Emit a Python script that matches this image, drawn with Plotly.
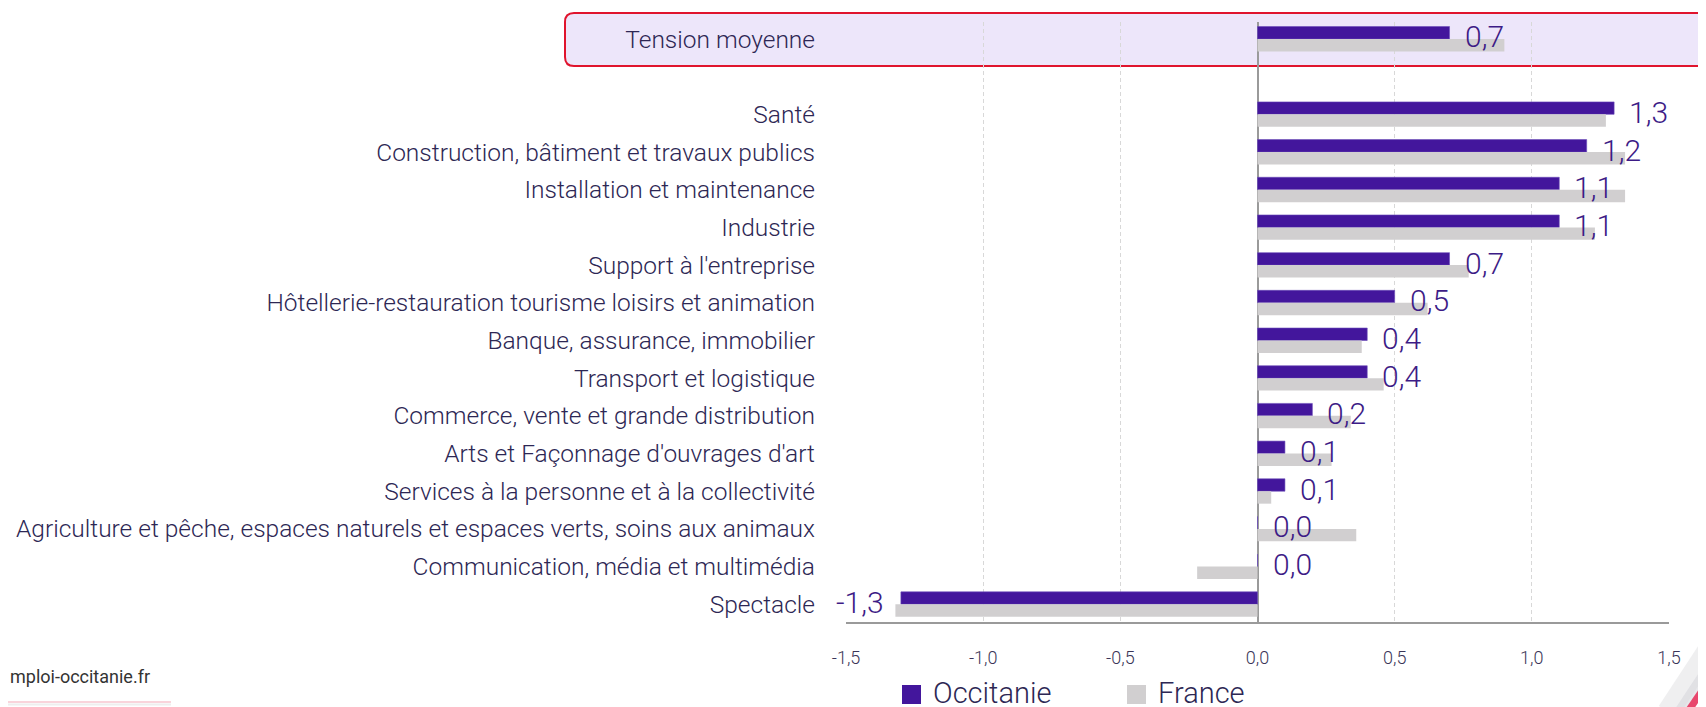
import plotly.graph_objects as go

# ---------------- data ----------------
categories = [
    "Tension moyenne",
    "Santé",
    "Construction, bâtiment et travaux publics",
    "Installation et maintenance",
    "Industrie",
    "Support à l'entreprise",
    "Hôtellerie-restauration tourisme loisirs et animation",
    "Banque, assurance, immobilier",
    "Transport et logistique",
    "Commerce, vente et grande distribution",
    "Arts et Façonnage d'ouvrages d'art",
    "Services à la personne et à la collectivité",
    "Agriculture et pêche, espaces naturels et espaces verts, soins aux animaux",
    "Communication, média et multimédia",
    "Spectacle",
]
occitanie = [0.70, 1.30, 1.20, 1.10, 1.10, 0.70, 0.50, 0.40, 0.40, 0.20, 0.10, 0.10, 0.00, 0.00, -1.30]
france = [0.90, 1.27, 1.34, 1.34, 1.23, 0.77, 0.62, 0.38, 0.46, 0.34, 0.27, 0.05, 0.36, -0.22, -1.32]
tick_vals = [-1.5, -1.0, -0.5, 0.0, 0.5, 1.0, 1.5]
tick_labels = ["-1,5", "-1,0", "-0,5", "0,0", "0,5", "1,0", "1,5"]
series_names = ["Occitanie", "France"]

# ---------------- style ----------------
W, H = 1706, 707
OFF = 8  # page body margin
# target screen geometry of the plot area
SX0, SX1, SY0, SY1 = 846, 1669, 22, 622
ML, MT = SX0 - OFF, SY0 - OFF
MR, MB = W - (SX1 - OFF), H - (SY1 - OFF)
PW, PH = SX1 - SX0, SY1 - SY0
PURPLE = "#43169c"
GREY = "#d1cfd0"
TXT = "#2d2754"
LBL = "#3d1b86"
FONT = "Roboto"

# positions: first row (average) separated from the rest by an empty row
pos = [0] + [i + 1 for i in range(1, len(categories))]
BW = 0.33


def px_x(px):
    return (px - SX0) / PW


def px_y(py):
    return (SY1 - py) / PH


fig = go.Figure()
fig.add_trace(go.Bar(
    y=pos, x=occitanie, orientation="h", name=series_names[0],
    marker=dict(color=PURPLE, line=dict(color="#6a4bb8", width=0.6)),
    width=BW, offset=-BW, showlegend=False, hoverinfo="x+name",
))
fig.add_trace(go.Bar(
    y=pos, x=france, orientation="h", name=series_names[1],
    marker=dict(color=GREY, line=dict(width=0)),
    width=BW, offset=0, showlegend=False, hoverinfo="x+name",
))

# value labels (Occitanie)
for p, v in zip(pos, occitanie):
    txt = f"{v:.1f}".replace(".", ",")
    fig.add_annotation(
        x=v, y=p, xref="x", yref="y", text=txt, showarrow=False,
        xanchor="left" if v >= 0 else "right", yanchor="middle",
        xshift=13 if v >= 0 else -15, yshift=2,
        font=dict(family=FONT, size=30, color=LBL, weight=300),
    )

shapes = []
# highlighted "Tension moyenne" band with rounded corners
x0, x1 = px_x(565), px_x(1730)
y0, y1 = px_y(66), px_y(13)
rx, ry = 9 / PW, 9 / PH
path = (f"M{x0+rx},{y1} L{x1-rx},{y1} Q{x1},{y1} {x1},{y1-ry} L{x1},{y0+ry} "
        f"Q{x1},{y0} {x1-rx},{y0} L{x0+rx},{y0} Q{x0},{y0} {x0},{y0+ry} "
        f"L{x0},{y1-ry} Q{x0},{y1} {x0+rx},{y1} Z")
shapes.append(dict(type="path", xref="paper", yref="paper", path=path,
                   fillcolor="#ede6fa", line=dict(color="#e0142d", width=2), layer="below"))

# custom legend
leg = [(902, 931, series_names[0], PURPLE), (1127, 1156, series_names[1], GREY)]
for sx, tx, name, col in leg:
    shapes.append(dict(type="rect", xref="paper", yref="paper",
                       x0=px_x(sx), x1=px_x(sx + 19), y0=px_y(704), y1=px_y(685),
                       fillcolor=col, line=dict(width=0)))
    fig.add_annotation(x=px_x(tx), y=px_y(693), xref="paper", yref="paper", text=name,
                       showarrow=False, xanchor="left", yanchor="middle",
                       font=dict(family=FONT, size=29, color=TXT, weight=300))

# footer text + decoration
fig.add_annotation(x=px_x(OFF), y=px_y(676), xref="paper", yref="paper", text="mploi-occitanie.fr",
                   showarrow=False, xanchor="left", yanchor="middle",
                   font=dict(family=FONT, size=18, color="#333333", weight=400))
shapes.append(dict(type="line", xref="paper", yref="paper", x0=px_x(OFF), x1=px_x(171),
                   y0=px_y(702), y1=px_y(702), line=dict(color="#f7c6cf", width=1.5)))
shapes.append(dict(type="line", xref="paper", yref="paper", x0=px_x(OFF), x1=px_x(171),
                   y0=px_y(704.5), y1=px_y(704.5), line=dict(color="#eeeeee", width=2)))
# corner logo fragment
shapes.append(dict(type="line", xref="paper", yref="paper", x0=px_x(1668), x1=px_x(1712),
                   y0=px_y(712), y1=px_y(645), line=dict(color="rgba(225,225,228,0.55)", width=22)))
shapes.append(dict(type="line", xref="paper", yref="paper", x0=px_x(1679), x1=px_x(1712),
                   y0=px_y(712), y1=px_y(662), line=dict(color="rgba(215,215,220,0.6)", width=10)))
shapes.append(dict(type="line", xref="paper", yref="paper", x0=px_x(1689), x1=px_x(1712),
                   y0=px_y(710), y1=px_y(676), line=dict(color="#e8476d", width=7)))

fig.update_layout(
    width=W, height=H,
    margin=dict(l=ML, r=MR, t=MT, b=MB, autoexpand=False),
    paper_bgcolor="white", plot_bgcolor="rgba(0,0,0,0)",
    barmode="overlay", showlegend=False, shapes=shapes,
    font=dict(family=FONT, color=TXT),
    xaxis=dict(
        range=[-1.5001, 1.5001], tickvals=tick_vals, ticktext=tick_labels,
        showgrid=True, gridcolor="#d8d8d8", griddash="4px,3px", gridwidth=1,
        zeroline=True, zerolinecolor="#9a9a9a", zerolinewidth=2,
        showline=True, linecolor="#9a9a9a", linewidth=2,
        ticks="", ticklabelstandoff=18,
        tickfont=dict(family=FONT, size=18, color="#3a3558", weight=300),
    ),
    yaxis=dict(
        range=[15.47, -0.45], tickvals=pos, ticktext=categories,
        showgrid=False, zeroline=False, showline=False, ticks="",
        ticklabelstandoff=30,
        tickfont=dict(family=FONT, size=24.5, color=TXT, weight=300),
    ),
)

fig.write_html("out.html")
